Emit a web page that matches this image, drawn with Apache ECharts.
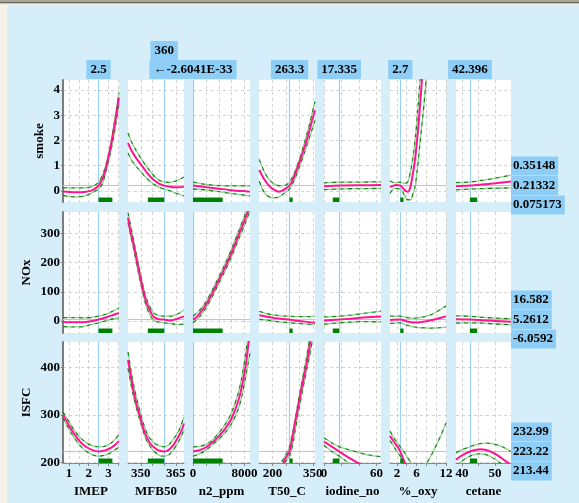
<!DOCTYPE html>
<html><head><meta charset="utf-8">
<script src="https://cdn.jsdelivr.net/npm/echarts@6/dist/echarts.min.js"></script>
<style>html,body{margin:0;padding:0;background:#d6eefa;}#c{width:579px;height:503px;}</style>
</head><body><div id="c"></div>
<script>
// ---------- factors (x) ----------
const factors = ['IMEP','MFB50','n2_ppm','T50_C','iodine_no','%_oxy','cetane'];
const factorMin = [0.7, 344.5, 0, 150, 0, 0.6, 38.2];
const factorMax = [3.535, 368.5, 8850, 358, 65, 12, 54.8];
const factorCurrent = [2.5, 360, -2.6041e-33, 263.3, 17.335, 2.7, 42.396];
const factorCurrentText = ['2.5','360','\u2190-2.6041E-33','263.3','17.335','2.7','42.396'];
const factorGridTicks = [[1,1.5,2,2.5,3,3.5],[350,355,360,365],[0,2000,4000,6000,8000],[200,250,300,350],[0,20,40,60],[2,4,6,8,10,12],[40,45,50]];
const factorTickLabels = [[1,2,3],[350,365],[0,8000],[200,350],[0,60],[2,6,12],[40,50]];
const factorBar = [[2.5,3.2],[353,360],[0,4600],[263.3,275],[10,17.335],[2.7,3.35],[42.396,44.6]];

// ---------- responses (y) ----------
const responses = ['smoke','NOx','ISFC'];
const respMin = [-0.44, -41, 199];
const respMax = [4.4, 374, 453];
const respTicks = [[0,1,2,3,4],[0,100,200,300],[200,300,400]];
const respCurrent = [0.21332, 5.2612, 223.22];
const respCurrentText = ['0.21332','5.2612','223.22'];
const respUpperText = ['0.35148','16.582','232.99'];
const respLowerText = ['0.075173','-6.0592','213.44'];

// ---------- smoke curves (per factor) ----------
const smokePred = [
  [[0.7,-0.02],[1.0,-0.04],[1.4,-0.05],[1.8,-0.04],[2.1,0.0],[2.3,0.08],[2.5,0.21],[2.6,0.33],[2.75,0.58],[2.9,1.0],[3.05,1.52],[3.2,2.12],[3.35,2.8],[3.53,3.7]],
  [[344.5,1.9],[346,1.6],[348,1.3],[350,1.05],[352,0.8],[354,0.57],[356,0.4],[358,0.28],[360,0.21],[362,0.17],[364,0.15],[366,0.15],[368.5,0.16]],
  [[0,0.21],[2000,0.15],[4000,0.09],[6000,0.03],[8850,-0.03]],
  [[151,0.83],[170,0.45],[190,0.17],[210,0.02],[222,-0.03],[235,0.0],[250,0.1],[263.3,0.21],[275,0.42],[290,0.83],[305,1.28],[320,1.76],[335,2.3],[350,2.9],[358,3.2]],
  [[0,0.18],[20,0.215],[40,0.225],[65,0.23]],
  [[0.6,0.15],[1.2,0.2],[1.8,0.23],[2.7,0.21],[3.3,0.1],[3.9,-0.02],[4.3,-0.03],[4.7,0.12],[5.0,0.4],[5.4,0.85],[5.7,1.25],[6.0,1.8],[6.3,2.4],[6.7,3.35],[7.1,4.4],[7.3,5.0]],
  [[38.2,0.18],[42.4,0.21],[46,0.25],[50,0.3],[54.8,0.37]]
];
const smokeHi = [
  [[0.7,0.12],[1.2,0.12],[1.6,0.12],[2.0,0.14],[2.3,0.22],[2.5,0.35],[2.7,0.62],[2.9,1.12],[3.1,1.8],[3.3,2.72],[3.53,3.9]],
  [[344.5,2.3],[346,1.95],[348,1.6],[350,1.3],[352,1.02],[354,0.78],[356,0.56],[358,0.42],[360,0.35],[362,0.34],[364,0.37],[366,0.43],[368.5,0.55]],
  [[0,0.35],[2000,0.26],[4000,0.21],[6000,0.2],[8850,0.2]],
  [[151,1.25],[170,0.75],[190,0.42],[210,0.26],[230,0.2],[250,0.23],[263.3,0.35],[280,0.68],[300,1.25],[320,1.95],[340,2.75],[358,3.55]],
  [[0,0.32],[20,0.35],[40,0.35],[65,0.36]],
  [[0.6,0.4],[1.5,0.32],[2.7,0.35],[3.5,0.3],[4.2,0.35],[4.8,0.8],[5.3,1.36],[5.8,2.2],[6.3,3.3],[6.7,4.4],[6.9,5.0]],
  [[38.2,0.33],[42.4,0.35],[46,0.42],[50,0.5],[54.8,0.63]]
];
const smokeLo = [
  [[0.7,-0.18],[1.0,-0.22],[1.4,-0.24],[1.8,-0.2],[2.1,-0.1],[2.3,-0.02],[2.5,0.075],[2.7,0.3],[2.9,0.86],[3.1,1.5],[3.3,2.3],[3.53,3.45]],
  [[344.5,1.5],[346,1.22],[348,0.98],[350,0.76],[352,0.55],[354,0.37],[356,0.24],[358,0.14],[360,0.075],[362,0.02],[364,-0.05],[366,-0.12],[368.5,-0.2]],
  [[0,0.075],[2000,0.04],[4000,-0.03],[6000,-0.1],[8850,-0.2]],
  [[151,0.38],[165,0.02],[180,-0.18],[200,-0.28],[220,-0.26],[240,-0.12],[263.3,0.075],[280,0.4],[300,0.95],[320,1.55],[340,2.2],[358,2.8]],
  [[0,0.05],[20,0.08],[40,0.09],[65,0.1]],
  [[0.6,-0.1],[1.5,0.1],[2.7,0.075],[3.5,-0.15],[4.2,-0.35],[4.8,-0.35],[5.3,-0.1],[5.7,0.17],[6.2,0.9],[6.7,1.9],[7.4,3.2],[8.0,4.5]],
  [[38.2,0.04],[42.4,0.075],[46,0.09],[50,0.11],[54.8,0.12]]
];

// ---------- NOx curves ----------
const noxPred = [
  [[0.7,-3],[1.2,-4],[1.7,-4],[2.1,-1],[2.5,5.3],[2.9,13],[3.2,20],[3.53,28]],
  [[344.5,355],[345.5,310],[346.8,266],[348,220],[349.7,152],[351,105],[352.5,61],[354,35],[355.4,15],[357,8],[358.5,5.5],[360,5.3],[362,2],[364,4],[366,9],[368.5,16]],
  [[0,5.3],[500,12],[1000,25],[2000,55],[3000,95],[4000,140],[5000,185],[6000,235],[7000,290],[8000,345],[8850,395]],
  [[151,20],[180,15],[210,10],[240,7],[263.3,5.3],[290,1],[320,-2],[358,-6]],
  [[0,2],[17.3,5.3],[30,8],[45,12],[65,16]],
  [[0.6,4],[2.7,5.3],[4,-1],[5.5,-5],[7,-3],[9,3],[11.3,13],[12,16]],
  [[38.2,6],[42.4,5.3],[46,3],[50,0],[54.8,-2]]
];
const noxHi = [
  [[0.7,12],[1.2,12],[1.7,11],[2.1,12],[2.5,16.6],[2.9,24],[3.2,33],[3.53,45]],
  [[344.5,372],[346.8,282],[349.7,166],[352.5,75],[355.4,29],[358,18],[360,16.6],[363,17],[366,25],[368.5,38]],
  [[0,16.6],[1000,36],[2000,66],[3000,106],[4000,151],[5000,197],[6000,248],[7000,304],[8000,361],[8850,412]],
  [[151,33],[180,25],[210,20],[240,17],[263.3,16.6],[290,15],[320,15],[358,16]],
  [[0,14],[17.3,16.6],[30,20],[45,26],[65,34]],
  [[0.6,17],[2.7,16.6],[4,12],[5.5,10],[7,13],[9,22],[11.3,44],[12,52]],
  [[38.2,18],[42.4,16.6],[46,13],[50,10],[54.8,8]]
];
const noxLo = [
  [[0.7,-19],[1.2,-20],[1.7,-19],[2.1,-12],[2.5,-6.1],[2.9,2],[3.2,7],[3.53,11]],
  [[344.5,338],[346.8,250],[349.7,138],[352.5,47],[355.4,3],[358,-4],[360,-6.1],[363,-9],[366,-12],[368.5,-10]],
  [[0,-6.1],[1000,14],[2000,44],[3000,84],[4000,129],[5000,173],[6000,222],[7000,276],[8000,329],[8850,378]],
  [[151,6],[180,3],[210,-1],[240,-4],[263.3,-6.1],[290,-8],[320,-10],[358,-12]],
  [[0,-11],[17.3,-6.1],[30,-4],[45,-2],[65,-3]],
  [[0.6,-8],[2.7,-6.1],[4,-14],[5.5,-20],[7,-23],[9,-24],[11.3,-22],[12,-21]],
  [[38.2,-7],[42.4,-6.1],[46,-7],[50,-10],[54.8,-13]]
];

// ---------- ISFC curves ----------
const isfcPred = [
  [[0.7,300],[1.0,278],[1.3,258],[1.6,242],[1.9,232],[2.2,226],[2.5,223.2],[2.8,225],[3.1,230],[3.3,236],[3.53,245]],
  [[344.5,415],[345.5,388],[346.8,352],[348,325],[349.7,296],[351,272],[352.5,254],[354,240],[355.4,233],[357,227],[359,223.5],[360,223.2],[361,224],[362.5,229],[364,237],[366.1,254],[367.5,268],[368.5,282]],
  [[0,223.2],[1000,226],[2000,232],[3000,242],[4000,255],[5000,271],[6000,293],[7000,328],[7600,360],[8200,405],[8600,447],[8850,470]],
  [[240,199],[250,210],[263.3,223.2],[272,245],[283.6,283],[295,316],[308.5,357],[318,383],[327,408],[334,429],[339.5,450],[345,468]],
  [[0,244],[17.3,223.2],[30,208],[40,198],[45,192]],
  [[0.6,256],[1.5,242],[2.2,232],[2.7,223.2],[3.2,210],[3.7,198],[4.0,190]],
  [[38.2,206],[40,215],[42.4,223.2],[44,226.5],[45.5,228],[47,227],[49,222],[51,214],[53,204],[54.3,198]]
];
const isfcHi = [
  [[0.7,306],[1.0,286],[1.3,266],[1.6,251],[1.9,241],[2.2,235],[2.5,233],[2.8,234],[3.1,240],[3.3,247],[3.53,258]],
  [[344.5,432],[346.8,365],[349.7,306],[352.5,263],[355.4,242],[358,235],[360,233],[362.5,240],[366.1,265],[368.5,296]],
  [[0,233],[1000,234],[2000,238],[3000,247],[4000,262],[5000,280],[6000,305],[7000,345],[7600,380],[8200,430],[8500,460]],
  [[234,201],[245,212],[255,222],[263.3,233],[275,263],[285,293],[295,325],[308.5,367],[318,395],[327,422],[334,446],[339,464]],
  [[0,252],[10,240],[17.3,233],[30,226],[40,221],[50,216],[65,212]],
  [[0.6,266],[1.5,250],[2.7,233],[3.5,222],[4.2,210],[5.0,199],[6.0,194],[7.0,194],[8.0,199],[9.0,215],[10,236],[11,258],[12,283]],
  [[38.2,220],[40,227],[42.4,233],[45,239],[47.5,240.6],[50,238],[52.5,232],[54.8,223]]
];
const isfcLo = [
  [[0.7,294],[1.0,270],[1.3,250],[1.6,234],[1.9,223],[2.2,216],[2.5,213.4],[2.8,215],[3.1,220],[3.3,226],[3.53,232]],
  [[344.5,398],[346.8,340],[349.7,287],[352.5,246],[355.4,225],[358,215],[360,213.4],[362.5,218],[366.1,243],[368.5,268]],
  [[0,213.4],[1000,218],[2000,226],[3000,237],[4000,249],[5000,263],[6000,282],[7000,312],[7600,340],[8200,382],[8850,430]],
  [[244,199],[250,203],[263.3,213.4],[275,237],[285,269],[295,302],[308.5,342],[318,369],[327,394],[335,416],[343,440],[350,462]],
  [[0,236],[10,222],[17.3,213.4],[25,203],[30,196]],
  [[0.6,246],[1.5,232],[2.2,220],[2.7,213.4],[3.2,200],[3.6,190]],
  [[38.2,192],[40,203],[42.4,213.4],[45,218],[47,217],[49,211],[51,202],[52.5,194]]
];

// ---------- layout ----------
const FONT = '"Liberation Serif","Times New Roman",serif';
const colLeft = [63,128,193,259,324,390,456];
const colWidth = [56,56,57,56,57,56,55];
const rowTop = [80,212,342];
const rowHeight = [122,121,121];
const predSets = [smokePred, noxPred, isfcPred];
const hiSets = [smokeHi, noxHi, isfcHi];
const loSets = [smokeLo, noxLo, isfcLo];
const BOX = '#8ecdf6';
const CUR = '#9ccff2';
const clampX = c => Math.max(factorMin[c], Math.min(factorMax[c], factorCurrent[c]));
const txt = {color:'#000', fontFamily:FONT, fontWeight:'bold', fontSize:13};
const plain = v => String(v);

const chart = echarts.init(document.getElementById('c'));
const grid = [], xAxis = [], yAxis = [], series = [];

function band(gi, data, color, off) {
  return {type:'line', xAxisIndex:gi, yAxisIndex:gi, data, showSymbol:false, smooth:0.3, silent:true,
    animation:false, z:2, lineStyle:{color, width:1.3, type:[4,4], dashOffset:off}};
}

for (let r = 0; r < 3; r++) {
  for (let c = 0; c < 7; c++) {
    const gi = r * 7 + c;
    grid.push({left:colLeft[c], top:rowTop[r], width:colWidth[c], height:rowHeight[r], show:true,
      backgroundColor:'#ffffff', borderWidth:0, containLabel:false, outerBoundsMode:'none'});
    const bottom = r === 2;
    xAxis.push({gridIndex:gi, type:'value', min:factorMin[c], max:factorMax[c], position:'bottom',
      name: bottom ? factors[c] : '', nameLocation:'middle', nameGap:22, nameMoveOverlap:false,
      nameTextStyle:{...txt},
      axisLine:{show:bottom, onZero:false, lineStyle:{color:'#8a8a8a', width:1}},
      axisTick:{show:bottom, customValues:factorGridTicks[c], length:3, lineStyle:{color:'#8a8a8a'}},
      axisLabel:{show:bottom, customValues:factorTickLabels[c], formatter:plain, margin:4, hideOverlap:false, ...txt},
      splitLine:{show:true, lineStyle:{color:'#d2d2d2', type:[3,3], width:1}}
    });
    const first = c === 0;
    yAxis.push({gridIndex:gi, type:'value', min:respMin[r], max:respMax[r],
      name: first ? responses[r] : '', nameLocation:'middle', nameRotate:90, nameGap: r === 0 ? 17 : 30,
      nameMoveOverlap:false, nameTextStyle:{...txt},
      axisLine:{show:first, onZero:false, lineStyle:{color:'#7c7c7c', width:2}},
      axisTick:{show:first, customValues:respTicks[r], length:2, lineStyle:{color:'#7c7c7c'}},
      axisLabel:{show:first, customValues:respTicks[r], formatter:plain, margin:3, hideOverlap:false, ...txt},
      splitLine:{show:true, lineStyle:{color:'#d2d2d2', type:[3,3], width:1}}
    });
    series.push({type:'line', xAxisIndex:gi, yAxisIndex:gi, data:predSets[r][c], showSymbol:false,
      smooth:0.3, silent:true, animation:false, z:3, lineStyle:{color:'#ff1493', width:2},
      markLine:{silent:true, animation:false, z:1, symbol:['none','none'], label:{show:false},
        emphasis:{disabled:true}, lineStyle:{color:CUR, width:1.2, type:'solid'},
        data:[{xAxis:clampX(c)}, {yAxis:respCurrent[r]}]}
    });
    series.push(band(gi, hiSets[r][c], '#138a13', 0));
    series.push(band(gi, hiSets[r][c], '#8fcf8f', 4));
    series.push(band(gi, loSets[r][c], '#138a13', 0));
    series.push(band(gi, loSets[r][c], '#8fcf8f', 4));
    const ymin = respMin[r];
    series.push({type:'custom', xAxisIndex:gi, yAxisIndex:gi, z:4, silent:true, animation:false,
      data:[factorBar[c]],
      renderItem:(params, api) => {
        const p0 = api.coord([api.value(0), ymin]);
        const p1 = api.coord([api.value(1), ymin]);
        return {type:'rect', shape:{x:p0[0], y:p0[1]-4.5, width:Math.max(p1[0]-p0[0], 3), height:4.5},
          style:{fill:'#008000'}};
      }
    });
  }
}
// current-value boxes above the top row
for (let c = 0; c < 7; c++) {
  xAxis.push({gridIndex:c, type:'value', min:factorMin[c], max:factorMax[c], position:'top',
    axisLine:{show:false}, axisTick:{show:false, customValues:[clampX(c)]}, splitLine:{show:false},
    axisLabel:{show:true, customValues:[clampX(c)], formatter:() => factorCurrentText[c],
      margin: c === 1 ? 20 : 1, backgroundColor:BOX, padding:[2,4,2,4], lineHeight:15, hideOverlap:false, ...txt}
  });
}

const graphic = [
  {type:'rect', shape:{x:0,y:0,width:579,height:2}, style:{fill:'#a9a697'}, silent:true},
  {type:'rect', shape:{x:0,y:2,width:579,height:1.5}, style:{fill:'#66645a'}, silent:true},
  {type:'rect', shape:{x:0,y:3.5,width:579,height:1.5}, style:{fill:'#ecebe2'}, silent:true},
  {type:'rect', shape:{x:0,y:5,width:7,height:498}, style:{fill:'#f4f2ea'}, silent:true}
];

chart.setOption({backgroundColor:'#d6eefa', animation:false, grid, xAxis, yAxis, series, graphic});

// response value boxes at the right, stacked around the current value line
const extra = [];
for (let r = 0; r < 3; r++) {
  const p = chart.convertToPixel({gridIndex: r * 7 + 6}, [factorMax[6], respCurrent[r]]);
  const x = colLeft[6] + colWidth[6];
  const items = [[respUpperText[r], -19.5], [respCurrentText[r], 0], [respLowerText[r], 19.5]];
  items.forEach(([t, dy]) => {
    extra.push({type:'text', x:x, y:p[1] + dy, z:10, silent:true,
      style:{text:t, fill:'#000', font:'bold 13px ' + FONT, align:'left', verticalAlign:'middle',
        backgroundColor:BOX, padding:[2,3,2,2], lineHeight:15}});
  });
}
chart.setOption({graphic: graphic.concat(extra)});
</script></body></html>
